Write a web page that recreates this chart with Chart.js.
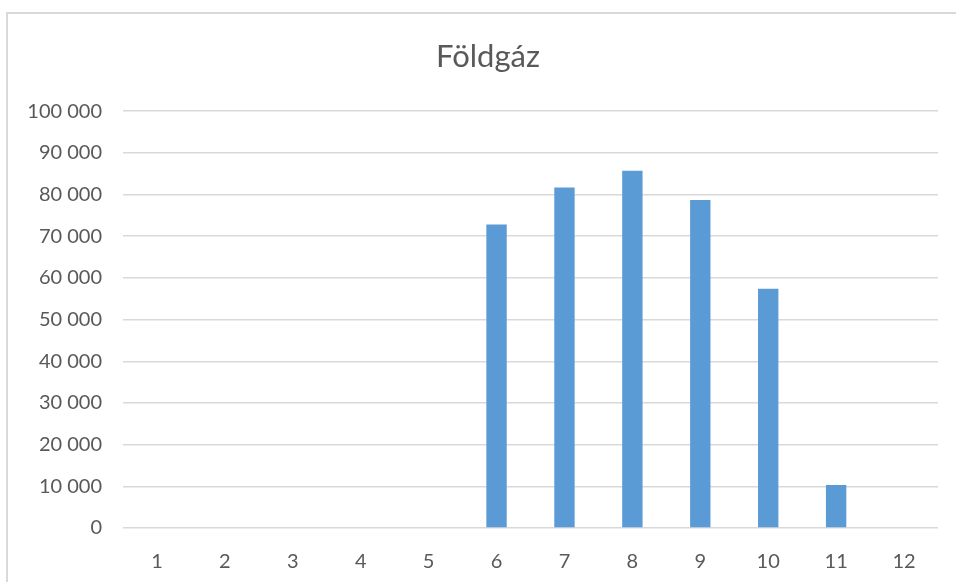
<!DOCTYPE html>
<html>
<head>
<meta charset="utf-8">
<script src="https://cdn.jsdelivr.net/npm/chart.js@4"></script>
<style>
  html, body { margin: 0; padding: 0; background: #ffffff; }
  #keret {
    position: absolute; left: 6px; top: 12px; width: 960px; height: 580px;
    border-left: 2px solid #d9d9d9; border-top: 2px solid #d9d9d9;
  }
  #doboz { position: absolute; left: 0; top: 0; width: 956px; height: 582px; }
</style>
</head>
<body>
<div id="keret"></div>
<div id="doboz"><canvas id="myChart" width="956" height="582"></canvas></div>
<script>
const honapok = ["1", "2", "3", "4", "5", "6", "7", "8", "9", "10", "11", "12"];
const foldgaz = [0, 0, 0, 0, 0, 72800, 81700, 85700, 78700, 57400, 10300, 0];
const cim = "Földgáz";

const betu = "Lato, 'Open Sans', sans-serif";

function ezres(v) {
  return String(v).replace(/\B(?=(\d{3})+(?!\d))/g, " ");
}

const ctx = document.getElementById("myChart").getContext("2d");
window.myChart = new Chart(ctx, {
  type: "bar",
  data: {
    labels: honapok,
    datasets: [
      {
        label: cim,
        data: foldgaz,
        backgroundColor: "#5b9bd5",
        borderWidth: 0,
        barPercentage: 0.3,
        categoryPercentage: 1,
      },
    ],
  },
  options: {
    responsive: false,
    animation: false,
    layout: { padding: { left: 20, right: 0, top: 0, bottom: 8 } },
    plugins: {
      legend: { display: false },
      tooltip: { enabled: false },
      title: {
        display: true,
        text: cim,
        color: "#595959",
        font: { family: betu, size: 31, weight: "normal" },
        padding: { top: 38, bottom: 36 },
      },
    },
    scales: {
      x: {
        grid: { display: false, drawTicks: false },
        border: { display: false },
        ticks: {
          color: "#595959",
          font: { family: betu, size: 20 },
          padding: 22,
          maxRotation: 0,
        },
        afterFit: (scale) => {
          scale.height = 46;
        },
      },
      y: {
        min: 0,
        max: 100000,
        grid: { color: "#d9d9d9", lineWidth: 1.5, drawTicks: false },
        border: { display: false },
        ticks: {
          stepSize: 10000,
          color: "#595959",
          font: { family: betu, size: 20 },
          padding: 21,
          callback: (v) => ezres(v),
        },
        afterFit: (scale) => {
          scale.width = 103;
        },
      },
      jobb: {
        type: "linear",
        position: "right",
        grid: { display: false, drawTicks: false },
        border: { display: false },
        ticks: { display: false },
        afterFit: (scale) => {
          scale.width = 18;
        },
      },
    },
  },
});
</script>
</body>
</html>
